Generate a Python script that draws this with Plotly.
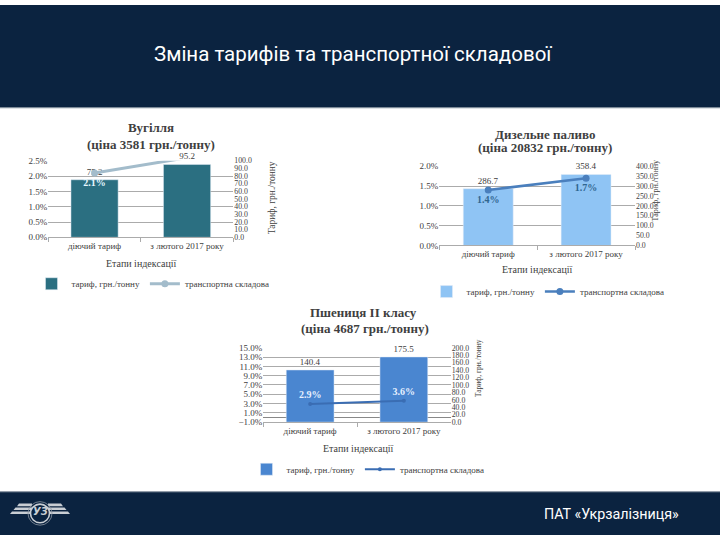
import plotly.graph_objects as go

W, H = 720, 540

# ---------------- data ----------------
categories = ["діючий тариф", "з лютого 2017 року"]

coal_tariff = [75.2, 95.2]
coal_share = [2.1, 2.6]

diesel_tariff = [286.7, 358.4]
diesel_share = [1.4, 1.7]

wheat_tariff = [140.4, 175.5]
wheat_share = [2.9, 3.6]

chart_titles = [
    ("Вугілля", "(ціна 3581 грн./тонну)"),
    ("Дизельне паливо", "(ціна 20832 грн./тонну)"),
    ("Пшениця ІІ класу", "(ціна 4687 грн./тонну)"),
]
series_names = ["тариф, грн./тонну", "транспортна складова"]
x_title = "Етапи індексації"
y2_title = "Тариф, грн./тонну"
slide_title = "Зміна тарифів та транспортної складової"
footer_text = "ПАТ «Укрзалізниця»"


def X(px):
    return px / W


def Y(py):
    return 1 - py / H


SERIF = "Liberation Serif, Times New Roman, serif"
TXT = "#404040"
GRID = "#ababab"

fig = go.Figure()

# ---- chart 1: coal ----
fig.add_trace(go.Bar(x=categories, y=coal_tariff, name=series_names[0],
                     xaxis="x", yaxis="y", marker_color="#2b6f81",
                     text=[f"{v:.1f}" for v in coal_tariff], textposition="outside",
                     textfont=dict(family=SERIF, size=9, color=TXT),
                     cliponaxis=False, legend="legend"))
fig.add_trace(go.Scatter(x=categories, y=coal_share, name=series_names[1],
                         xaxis="x", yaxis="y2", mode="lines+markers+text",
                         line=dict(color="#a3bccb", width=3),
                         marker=dict(color="#a3bccb", size=7),
                         text=[f"{v:.1f}%" for v in coal_share], textposition="bottom center",
                         textfont=dict(family=SERIF, size=10, color="#e6f7ff", weight="bold"),
                         cliponaxis=False, legend="legend"))

# ---- chart 2: diesel ----
fig.add_trace(go.Bar(x=categories, y=diesel_tariff, name=series_names[0],
                     xaxis="x2", yaxis="y3", marker_color="#8fc4f4",
                     text=[f"{v:.1f}" for v in diesel_tariff], textposition="outside",
                     textfont=dict(family=SERIF, size=9, color=TXT),
                     cliponaxis=False, legend="legend2"))
fig.add_trace(go.Scatter(x=categories, y=diesel_share, name=series_names[1],
                         xaxis="x2", yaxis="y4", mode="lines+markers+text",
                         line=dict(color="#4a7fbd", width=2.5),
                         marker=dict(color="#4a7fbd", size=7),
                         text=[f"{v:.1f}%" for v in diesel_share], textposition="bottom center",
                         textfont=dict(family=SERIF, size=10, color="#2f6690", weight="bold"),
                         cliponaxis=False, legend="legend2"))

# ---- chart 3: wheat ----
fig.add_trace(go.Bar(x=categories, y=wheat_tariff, name=series_names[0],
                     xaxis="x3", yaxis="y5", marker_color="#4a86d0",
                     text=[f"{v:.1f}" for v in wheat_tariff], textposition="outside",
                     textfont=dict(family=SERIF, size=9, color=TXT),
                     cliponaxis=False, legend="legend3"))
fig.add_trace(go.Scatter(x=categories, y=wheat_share, name=series_names[1],
                         xaxis="x3", yaxis="y6", mode="lines+markers+text",
                         line=dict(color="#3a6db3", width=2),
                         marker=dict(color="#3a6db3", size=4),
                         text=[f"{v:.1f}%" for v in wheat_share], textposition="top center",
                         textfont=dict(family=SERIF, size=10, color="#e6f0ff", weight="bold"),
                         cliponaxis=False, legend="legend3"))

tickfont = dict(family=SERIF, size=9, color=TXT)


def xax(l, r, anchor):
    return dict(domain=[X(l), X(r)], anchor=anchor, type="category",
                showline=True, linecolor=GRID, ticks="outside", tickson="boundaries",
                ticklen=4, tickcolor=GRID, tickfont=tickfont, showgrid=False,
                fixedrange=True)


def yright(top, bot, rng, dtick, anchor):
    return dict(domain=[Y(bot), Y(top)], anchor=anchor, side="right", range=rng,
                dtick=dtick, tickformat=".1f", showgrid=False, zeroline=False,
                tickfont=dict(family=SERIF, size=7.8, color=TXT), ticks="")


def yleft(top, bot, rng, dtick, anchor, over, tick0=0):
    return dict(domain=[Y(bot), Y(top)], anchor=anchor, side="left", range=rng,
                overlaying=over, tick0=tick0, dtick=dtick, tickformat=".1f",
                ticksuffix="%", showgrid=True, gridcolor=GRID, gridwidth=1,
                zeroline=False, tickfont=tickfont, ticks="")


# chart geometry (pixels)
c1 = dict(l=48.3, r=233.3, t=158.7, b=236.7)
c2 = dict(l=439.3, r=635.0, t=164.3, b=245.0)
c3 = dict(l=263.3, r=450.7, t=349.3, b=425.0)

layout = dict(
    width=W, height=H, margin=dict(l=0, r=0, t=0, b=0),
    paper_bgcolor="white", plot_bgcolor="rgba(0,0,0,0)",
    bargap=0.49, showlegend=True,
    xaxis=xax(c1["l"], c1["r"], "y"),
    yaxis=yright(c1["t"], c1["b"], [0, 100], 10, "x"),
    yaxis2=yleft(c1["t"], c1["b"], [0, 2.5], 0.5, "x", "y"),
    xaxis2=xax(c2["l"], c2["r"], "y3"),
    yaxis3=yright(c2["t"], c2["b"], [0, 400], 50, "x2"),
    yaxis4=yleft(c2["t"], c2["b"], [0, 2.0], 0.5, "x2", "y3"),
    xaxis3=xax(c3["l"], c3["r"], "y5"),
    yaxis5=yright(c3["t"], c3["b"], [0, 200], 20, "x3"),
    yaxis6=yleft(c3["t"], c3["b"], [-1, 15], 2, "x3", "y5", tick0=-1),
)
layout["yaxis6"]["zeroline"] = True
layout["yaxis6"]["zerolinecolor"] = "#888888"
layout["yaxis6"]["zerolinewidth"] = 1

legfont = dict(family=SERIF, size=9, color=TXT)


def leg(cx, cy):
    return dict(x=X(cx), y=Y(cy), xanchor="center", yanchor="middle",
                orientation="h", font=legfont, bgcolor="rgba(0,0,0,0)",
                itemwidth=30, tracegroupgap=0, itemclick=False)


layout["legend"] = leg(153, 284)
layout["legend2"] = leg(548, 292)
layout["legend3"] = leg(368, 473)

fig.update_layout(**layout)

# ---------------- slide decoration ----------------
NAVY = "#0b2340"
shapes = [
    dict(type="rect", xref="paper", yref="paper", x0=0, x1=1, y0=Y(104), y1=1,
         fillcolor=NAVY, line_width=0, layer="below"),
    dict(type="line", xref="paper", yref="paper", x0=0, x1=1, y0=Y(104.5), y1=Y(104.5),
         line=dict(color="#7d8a98", width=1.2)),
    dict(type="rect", xref="paper", yref="paper", x0=0, x1=1, y0=0, y1=Y(496),
         fillcolor=NAVY, line_width=0, layer="below"),
    dict(type="line", xref="paper", yref="paper", x0=0, x1=1, y0=Y(496), y1=Y(496),
         line=dict(color="#7d8a98", width=1)),
]

# logo (wings + circle)
SILVER = "#c9ced4"
for i, (xs, ys) in enumerate([(19, 508), (15.5, 512), (12, 516)]):
    shapes.append(dict(type="path", xref="paper", yref="paper",
                       path=(f"M {X(xs)},{Y(ys)} L {X(32)},{Y(ys)} L {X(32)},{Y(ys+2.6)} "
                             f"L {X(xs-2)},{Y(ys+2.6)} Z"),
                       fillcolor=SILVER, line_width=0))
    xr = 80 - xs
    shapes.append(dict(type="path", xref="paper", yref="paper",
                       path=(f"M {X(48)},{Y(ys)} L {X(xr)},{Y(ys)} L {X(xr+2)},{Y(ys+2.6)} "
                             f"L {X(48)},{Y(ys+2.6)} Z"),
                       fillcolor=SILVER, line_width=0))
shapes.append(dict(type="circle", xref="paper", yref="paper",
                   x0=X(30.5), x1=X(49.5), y0=Y(527.5), y1=Y(508.5),
                   line=dict(color=SILVER, width=1.6), fillcolor=NAVY))
shapes.append(dict(type="circle", xref="paper", yref="paper",
                   x0=X(28), x1=X(52), y0=Y(530), y1=Y(506),
                   line=dict(color="#8c96a2", width=0.8)))


def ann(text, px, py, font, **kw):
    d = dict(text=text, x=X(px), y=Y(py), xref="paper", yref="paper",
             xanchor="center", yanchor="middle", showarrow=False, font=font)
    d.update(kw)
    return d


annotations = [
    ann(slide_title, 353, 50, dict(family="Roboto", size=20.5, color="white")),
    ann(footer_text, 611, 519, dict(family="Roboto", size=14.3, color="white")),
    ann("<b><i>УЗ</i></b>", 40, 516, dict(family="DejaVu Sans", size=10, color=SILVER)),
]

# chart titles
title_pos = [((151, 125), (151, 142)), ((545, 131.5), (545, 145.5)), ((363, 313.5), (364.5, 329.5))]
for (t1, t2), ((x1, y1), (x2, y2)) in zip(chart_titles, title_pos):
    tf = dict(family=SERIF, size=13, color="#3f3f3f")
    annotations.append(ann(f"<b>{t1}</b>", x1, y1, tf))
    annotations.append(ann(f"<b>{t2}</b>", x2, y2, tf))

# x-axis titles
for (cx, cy) in [(141, 263.5), (537.5, 269), (358, 452)]:
    annotations.append(ann(x_title, cx, cy, dict(family=SERIF, size=10, color=TXT)))

# right axis titles
for (cx, cy, fs) in [(272, 197, 9.5), (655, 190, 8), (478, 370, 7.5)]:
    annotations.append(ann(y2_title, cx, cy, dict(family=SERIF, size=fs, color=TXT),
                           textangle=-90))

fig.update_layout(shapes=shapes, annotations=annotations)

fig.write_html("out.html", post_script="document.body.style.margin='0';")
